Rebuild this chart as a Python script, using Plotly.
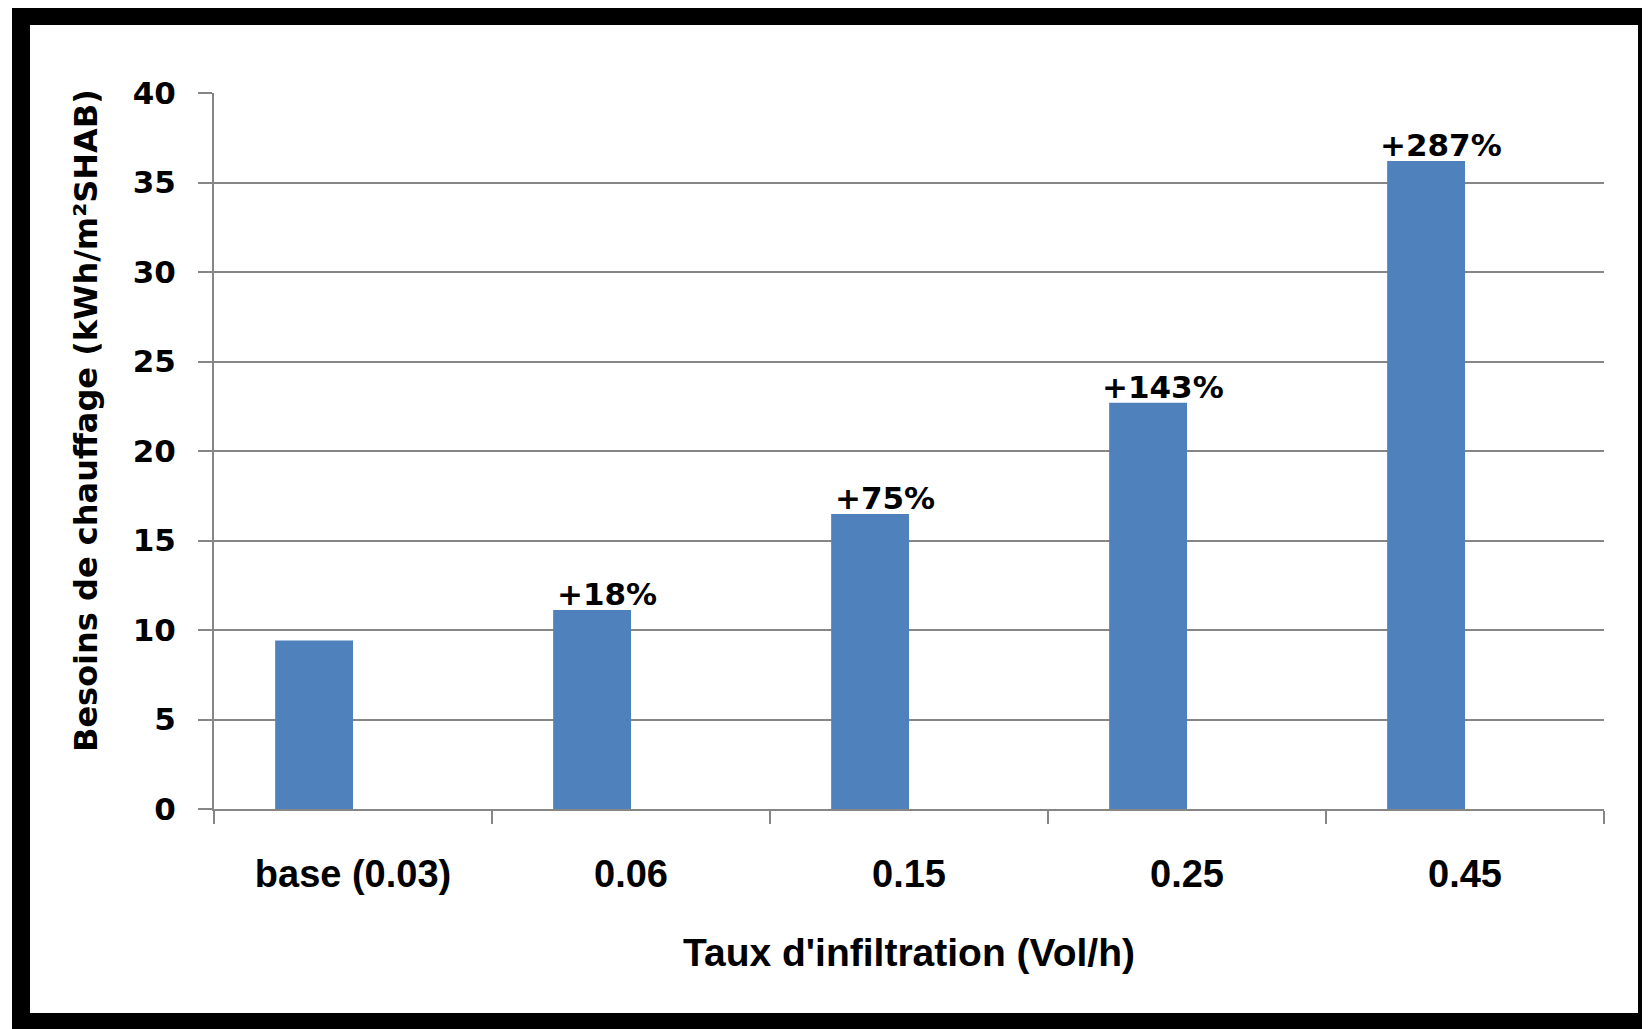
import plotly.graph_objects as go

# ---- data ----
categories = ["base (0.03)", "0.06", "0.15", "0.25", "0.45"]
besoins = [9.42, 11.12, 16.48, 22.7, 36.2]
hausse_labels = ["", "+18%", "+75%", "+143%", "+287%"]
y_ticks = [0, 5, 10, 15, 20, 25, 30, 35, 40]

# ---- layout constants (page offset of 8px from the html body margin) ----
PAGE_OFF = 8
W, H = 1650, 1029
ML, MT = 214 - PAGE_OFF, 93 - PAGE_OFF
MR = W - (1604 - PAGE_OFF)
MB = H - (809 - PAGE_OFF)
PW = W - ML - MR
PH = H - MT - MB


def px_x(px):
    """page pixel x -> paper coordinate"""
    return (px - PAGE_OFF - ML) / PW


def px_y(py):
    """page pixel y -> paper coordinate"""
    return (H - MB - (py - PAGE_OFF)) / PH


BAR_W = 0.28
BAR_OFF = -0.28
BLUE = "#4F81BD"
GRID = "#868686"
VERD = "DejaVu Sans"
ARIAL = "Liberation Sans"

fig = go.Figure(
    go.Bar(
        x=categories,
        y=besoins,
        width=BAR_W,
        offset=BAR_OFF,
        marker=dict(color=BLUE, line=dict(width=0)),
        hoverinfo="skip",
    )
)

annotations = []
for i, (v, lab) in enumerate(zip(besoins, hausse_labels)):
    if lab:
        annotations.append(dict(
            x=i + BAR_OFF + BAR_W / 2, y=v, xref="x", yref="y",
            text=lab, showarrow=False, xanchor="center", yanchor="bottom",
            xshift=15, yshift=-4,
            font=dict(family=VERD, size=31, color="black", weight="bold"),
        ))

annotations.append(dict(
    x=px_x(86), y=px_y(421), xref="paper", yref="paper",
    text="Besoins de chauffage (kWh/m²SHAB)", textangle=-90, showarrow=False,
    xanchor="center", yanchor="middle",
    font=dict(family=VERD, size=32, color="black", weight="bold"),
))

shapes = [
    dict(type="rect", xref="paper", yref="paper", layer="below",
         x0=px_x(12), x1=px_x(1680), y0=px_y(1060), y1=px_y(0),
         fillcolor="black", line=dict(width=0)),
    dict(type="rect", xref="paper", yref="paper", layer="below",
         x0=px_x(30), x1=px_x(1638), y0=px_y(1013), y1=px_y(25),
         fillcolor="white", line=dict(width=0)),
]

fig.update_layout(
    width=W, height=H,
    margin=dict(l=ML, r=MR, t=MT, b=MB, autoexpand=False),
    paper_bgcolor="white",
    plot_bgcolor="rgba(0,0,0,0)",
    showlegend=False,
    annotations=annotations,
    shapes=shapes,
    xaxis=dict(
        type="category",
        showline=True, linecolor=GRID, linewidth=2,
        ticks="outside", tickson="boundaries", ticklen=13, tickcolor=GRID, tickwidth=2,
        showgrid=False,
        tickfont=dict(family=ARIAL, size=38, color="black", weight="bold"),
        ticklabelstandoff=30,
        title=dict(text="Taux d'infiltration (Vol/h)", standoff=45,
                   font=dict(family=ARIAL, size=39, color="black", weight="bold")),
        automargin=False,
    ),
    yaxis=dict(
        range=[0, 40], tickvals=y_ticks,
        showline=True, linecolor=GRID, linewidth=2,
        ticks="outside", ticklen=14, tickcolor=GRID, tickwidth=2,
        showgrid=True, gridcolor=GRID, gridwidth=2,
        zeroline=False,
        tickfont=dict(family=VERD, size=31, color="black", weight="bold"),
        ticklabelstandoff=16,
        automargin=False,
    ),
)

fig.write_html("out.html")
